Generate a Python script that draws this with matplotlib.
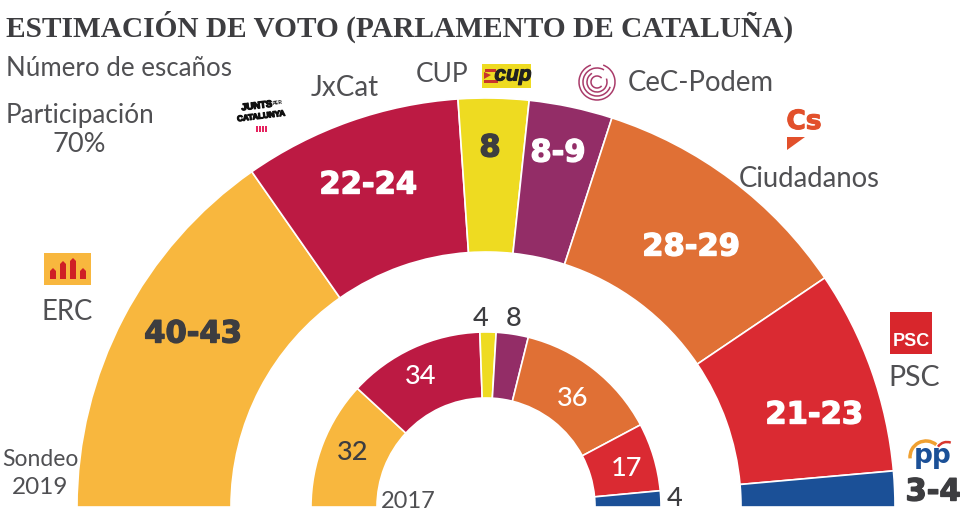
import matplotlib
matplotlib.use("Agg")
import matplotlib.pyplot as plt
import matplotlib.patheffects as pe
from matplotlib.patches import Arc, Polygon, Rectangle

# Seats, estimated from the arc sizes for the 2019 poll
parties = ["ERC", "JxCat", "CUP", "CeC-Podem", "Ciudadanos", "PSC", "PP"]
seats_2019 = [41.3, 23.25, 7.5, 8.9, 28.5, 21.75, 3.8]
labels_2019 = ["40-43", "22-24", "8", "8-9", "28-29", "21-23", "3-4"]
seats_2017 = [32, 34, 4, 8, 36, 17, 4]
colors = ["#F8B73E", "#BC1A43", "#EEDB21", "#932D67", "#E07035", "#DA2A32", "#1B5097"]

DARK = "#3D3D40"
GREY = "#505053"

fig = plt.figure(figsize=(9.8, 5.21), dpi=100)
ax = fig.add_axes([0, 0, 1, 1])


def half_donut(values, radius, width):
    # y axis points down here, so counterclock draws left to right over the top
    fracs = [v / sum(values) / 2 for v in values]
    ax.pie(fracs, colors=colors, center=(486, 507), radius=radius, startangle=180,
           counterclock=True, normalize=False,
           wedgeprops={"width": width, "edgecolor": "white", "linewidth": 1.2})


half_donut(seats_2019, 409, 154)
half_donut(seats_2017, 175, 66)

ax.set_xlim(0, 980)
ax.set_ylim(521, 0)
ax.set_aspect("auto")
ax.axis("off")


def body(x, y, s, ha="center", size=19.8):
    ax.text(x, y, s, ha=ha, va="center", fontsize=size, color=GREY, family="Lato")


def big(x, y, s, color="white", size=22):
    ax.text(x, y, s, ha="center", va="center", fontsize=size, color=color,
            family="DejaVu Sans", fontweight="bold",
            path_effects=[pe.withStroke(linewidth=1.0, foreground=color)])


ax.text(6, 27, "ESTIMACIÓN DE VOTO (PARLAMENTO DE CATALUÑA)", ha="left", va="center",
        fontsize=21.2, color=DARK, family="Liberation Serif", fontweight="bold")

body(6, 69, "Número de escaños", ha="left", size=18.6)
body(6, 116, "Participación", ha="left", size=18.8)
body(79, 145, "70%", size=19.5)
body(345, 88, "JxCat", size=20)
body(442, 74, "CUP", size=19)
body(628, 83, "CeC-Podem", ha="left")
body(809, 179, "Ciudadanos")
body(67, 312, "ERC")
body(914, 378, "PSC", size=20.5)
body(40, 459, "Sondeo", size=16.5)
body(40, 488, "2019", size=17.5)
body(381, 501, "2017", ha="left", size=17)

# Seat labels, 2019
label_xy = [(193, 334), (368, 185), (490, 148), (558, 153), (691, 247), (814, 415), (933, 492)]
label_col = [DARK, "white", DARK, "white", "white", "white", DARK]
for (x, y), s, c in zip(label_xy, labels_2019, label_col):
    big(x, y, s, c)

# Seat labels, 2017
inner_xy = [(353, 453), (421, 377), (481, 319), (514, 319), (573, 399), (627, 469), (675, 499)]
inner_col = [DARK, "white", DARK, DARK, "white", "white", DARK]
for (x, y), s, c in zip(inner_xy, seats_2017, inner_col):
    ax.text(x, y, str(s), ha="center", va="center", fontsize=19.5, color=c,
            family="Lato", fontweight="medium")

# ERC logo
ax.add_patch(Rectangle((44, 253), 47, 32, color="#F8B73E", lw=0))
for x0, top, w in [(50, 268, 6), (60, 261, 6), (70, 258, 6), (80, 268, 6)]:
    ax.add_patch(Polygon([(x0, 279), (x0, top + 3), (x0 + w / 2, top), (x0 + w, top + 3), (x0 + w, 279)],
                         color="#CF1F25", lw=0))

# JxCat logo
thick = [pe.withStroke(linewidth=0.9, foreground="#111111")]
ax.text(257, 106, "JUNTS", ha="center", va="center", fontsize=6.8, fontweight="bold",
        family="Liberation Sans", color="#111111", rotation=7, path_effects=thick)
ax.text(277, 103, "PER", ha="center", va="center", fontsize=3.5, fontweight="bold",
        family="Liberation Sans", color="#111111", rotation=7)
ax.text(261, 117, "CATALUNYA", ha="center", va="center", fontsize=5.8, fontweight="bold",
        family="Liberation Sans", color="#111111", rotation=7, path_effects=thick)
for x0 in [256, 259, 262, 265]:
    ax.add_patch(Rectangle((x0, 126), 2, 6, color="#E5235F", lw=0))

# CUP logo
ax.add_patch(Rectangle((482, 64), 49, 24, color="#EEDB21", lw=0))
ax.add_patch(Rectangle((485, 69), 11, 2.5, color="#C8352B", lw=0))
ax.add_patch(Rectangle((484, 80), 14, 3, color="#C8352B", lw=0))
ax.add_patch(Polygon([(484, 72), (491, 75), (484, 79)], color="#C8352B", lw=0))
ax.text(513, 75, "cup", ha="center", va="center", fontsize=15, fontweight="bold",
        style="italic", family="Liberation Sans", color="#222222",
        path_effects=[pe.withStroke(linewidth=0.8, foreground="#222222")])

# CeC-Podem logo
for r, t1, t2 in [(18, 290, 250), (14, 20, 300), (10, 340, 240), (6, 40, 320)]:
    ax.add_patch(Arc((597, 82), 2 * r, 2 * r, theta1=t1, theta2=t2, color="#A93B6A", lw=1.1))

# Cs logo
ax.text(804, 122, "Cs", ha="center", va="center", fontsize=19, fontweight="bold",
        family="DejaVu Sans", color="#E2502B",
        path_effects=[pe.withStroke(linewidth=0.8, foreground="#E2502B")])
ax.add_patch(Polygon([(787, 137), (805, 137), (787, 150)], color="#E2502B", lw=0))

# PSC logo
ax.add_patch(Rectangle((890, 312), 42, 42, color="#D8262C", lw=0))
ax.text(911, 341, "PSC", ha="center", va="center", fontsize=13, fontweight="bold",
        family="Liberation Sans", color="white")

# PP logo
ax.add_patch(Arc((926, 457), 32, 32, theta1=175, theta2=310, color="#F0A030", lw=2.5))
ax.add_patch(Arc((947, 453), 22, 22, theta1=215, theta2=290, color="#D8362E", lw=1.8))
ax.text(933, 456, "pp", ha="center", va="center", fontsize=19, fontweight="bold",
        family="DejaVu Sans", color="#1B5097")

fig.savefig("out.png", dpi=100)
